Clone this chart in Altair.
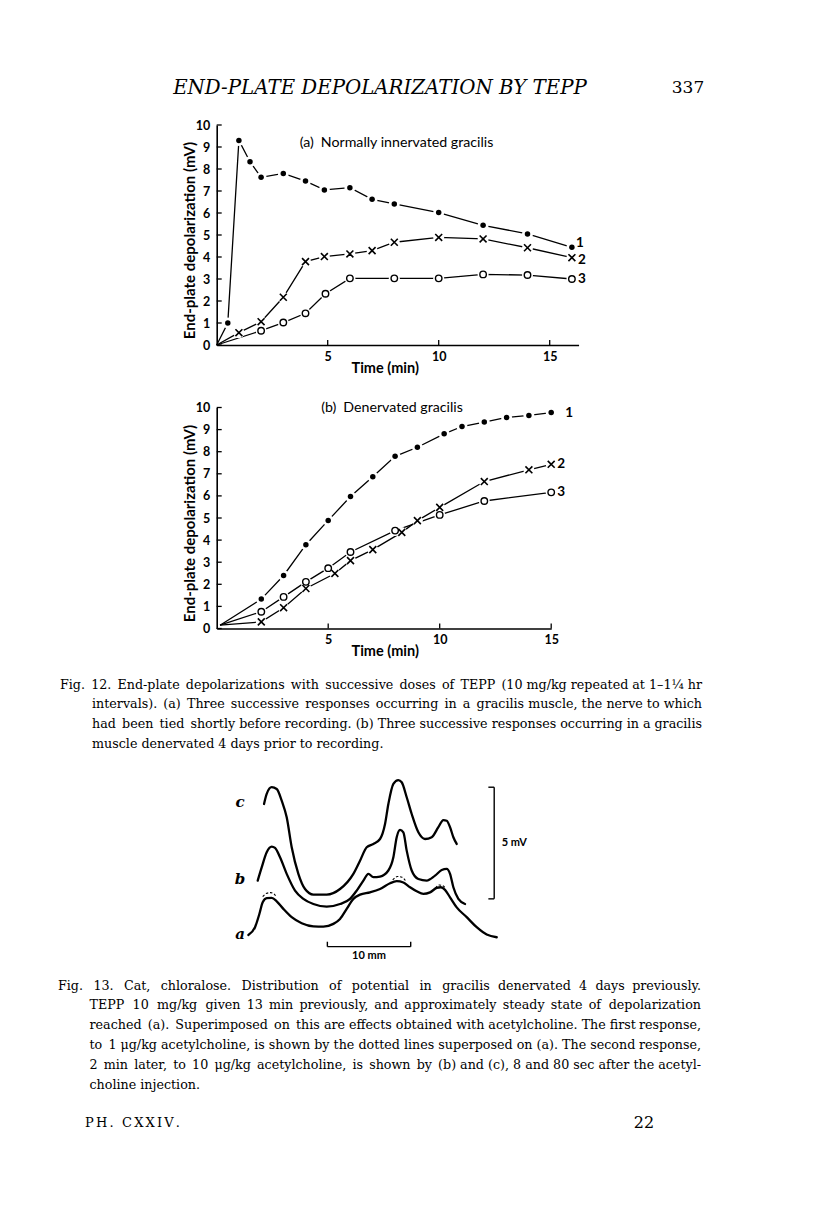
import altair as alt
import pandas as pd

SANS = "Lato"
SERIF = "DejaVu Serif"

# ---------------- Fig. 12 (a) Normally innervated gracilis ----------------
a_time_1 = [0, 0.5, 1, 1.5, 2, 3, 4, 4.85, 6, 7, 8, 10, 12, 14, 16]
a_mv_1 = [0, 1.0, 9.3, 8.33, 7.62, 7.8, 7.45, 7.05, 7.15, 6.62, 6.41, 6.02, 5.44, 5.05, 4.44]
a_time_2 = [0, 1, 2, 3, 4, 4.85, 6, 7, 8, 10, 12, 14, 16]
a_mv_2 = [0, 0.56, 1.06, 2.17, 3.79, 4.02, 4.14, 4.29, 4.67, 4.89, 4.82, 4.42, 3.97]
a_time_3 = [0, 2, 3, 4, 4.9, 6, 8, 10, 12, 14, 16]
a_mv_3 = [0, 0.65, 1.02, 1.44, 2.33, 3.03, 3.03, 3.03, 3.21, 3.18, 3.0]

# ---------------- Fig. 12 (b) Denervated gracilis ----------------
b_time_1 = [0.15, 2, 3, 4, 5, 6, 7, 8, 9, 10.2, 11, 12, 13, 14, 15]
b_mv_1 = [0.15, 1.33, 2.4, 3.79, 4.89, 5.97, 6.87, 7.79, 8.2, 8.81, 9.14, 9.34, 9.55, 9.64, 9.77]
b_time_2 = [0.15, 2, 3, 4, 5.3, 6, 7, 8.3, 9, 10, 12, 14, 15]
b_mv_2 = [0.15, 0.3, 0.94, 1.81, 2.49, 3.07, 3.57, 4.35, 4.88, 5.48, 6.65, 7.18, 7.43]
b_time_3 = [0.15, 2, 3, 4, 5, 6, 8, 10, 12, 15]
b_mv_3 = [0.15, 0.76, 1.43, 2.11, 2.73, 3.46, 4.43, 5.14, 5.77, 6.16]

y_ticks = list(range(0, 11))
x_ticks = [5, 10, 15]
series_labels = ["1", "2", "3"]

# ---------------- Fig. 13 traces (x in mm, y in mV) ----------------
trace_a_mm = [0, 0.8, 1.32, 1.72, 2.2, 2.8, 3.4, 4.2, 5.2, 6.4, 7.8, 9.0, 10.2, 11.0, 11.8, 12.6, 13.4,
              14.6, 15.8, 17.0, 17.8, 18.6, 19.4, 20.2, 21.0, 21.8, 22.6, 23.1, 23.6, 24.2, 25.0, 26.2,
              27.4, 28.6, 29.8]
trace_a_mv = [0.10, 0.45, 1.04, 1.57, 1.75, 1.76, 1.61, 1.27, 0.90, 0.63, 0.49, 0.48, 0.60, 0.82, 1.27,
              1.72, 1.91, 2.01, 2.16, 2.42, 2.51, 2.45, 2.24, 2.06, 1.94, 2.01, 2.21, 2.24, 2.12, 1.79,
              1.34, 0.90, 0.45, 0.12, 0.0]
trace_b_mm = [1.12, 1.6, 2.2, 2.8, 3.2, 3.8, 4.6, 5.6, 6.6, 7.8, 9.4, 11.0, 12.2, 13.0, 13.8, 14.4, 15.0,
              15.8, 16.8, 17.4, 17.8, 18.2, 18.6, 19.0, 19.6, 20.4, 21.4, 22.4, 23.2, 23.8, 24.2, 24.6,
              25.2, 26.0]
trace_b_mv = [2.54, 3.13, 3.81, 4.06, 4.0, 3.58, 2.84, 2.09, 1.72, 1.49, 1.37, 1.49, 1.72, 2.09, 2.54,
              2.84, 2.69, 2.72, 2.99, 3.58, 4.48, 4.81, 4.70, 3.88, 2.99, 2.61, 2.54, 2.76, 3.01, 3.06,
              2.84, 2.24, 1.72, 1.49]
trace_c_mm = [1.88, 2.2, 2.8, 3.4, 4.0, 4.6, 5.2, 6.0, 6.8, 7.8, 9.4, 11.0, 12.6, 13.4, 14.2, 15.0, 15.8,
              16.4, 16.8, 17.4, 18.0, 18.4, 19.0, 19.6, 20.4, 21.2, 22.0, 22.8, 23.4, 23.8, 24.2, 24.6,
              25.0]
trace_c_mv = [5.97, 6.42, 6.72, 6.64, 6.12, 5.37, 4.03, 2.84, 2.16, 1.91, 1.91, 2.16, 2.84, 3.43, 4.03,
              4.18, 4.40, 5.07, 5.97, 6.87, 7.04, 6.94, 6.27, 5.52, 4.70, 4.40, 4.48, 4.93, 5.25, 5.22,
              4.93, 4.48, 4.18]
# dotted responses to 1 ug/kg ACh superposed on (a)
dot1_mm = [1.72, 2.2, 2.68, 3.08, 3.32]
dot1_mv = [1.82, 1.97, 2.0, 1.94, 1.82]
dot2_mm = [17.32, 17.88, 18.44, 18.84]
dot2_mv = [2.57, 2.72, 2.69, 2.54]
dot3_mm = [22.44, 22.92, 23.4, 23.64]
dot3_mv = [2.21, 2.34, 2.30, 2.18]
trace_names = ["a", "b", "c"]
trace_label_mm = -1.0
trace_label_mv = [0.15, 2.61, 6.04]
# calibration bars
bar_mv_x, bar_mv_lo, bar_mv_len = 29.5, 1.72, 5.0
bar_mm_y, bar_mm_lo, bar_mm_len = -0.42, 9.48, 10.0

# ---------------- page texts ----------------
header_text = "END-PLATE DEPOLARIZATION BY TEPP"
page_number = "337"
fig12_caption = [
    "Fig. 12. End-plate depolarizations with successive doses of TEPP (10 mg/kg repeated at 1\u20131\u00bc hr",
    "intervals). (a) Three successive responses occurring in a gracilis muscle, the nerve to which",
    "had been tied shortly before recording. (b) Three successive responses occurring in a gracilis",
    "muscle denervated 4 days prior to recording.",
]
fig13_caption = [
    "Fig. 13. Cat, chloralose. Distribution of potential in gracilis denervated 4 days previously.",
    "TEPP 10 mg/kg given 13 min previously, and approximately steady state of depolarization",
    "reached (a). Superimposed on this are effects obtained with acetylcholine. The first response,",
    "to 1 \u03bcg/kg acetylcholine, is shown by the dotted lines superposed on (a). The second response,",
    "2 min later, to 10 \u03bcg/kg acetylcholine, is shown by (b) and (c), 8 and 80 sec after the acetyl-",
    "choline injection.",
]
footer_left = "PH. CXXIV."
footer_right = "22"

XPATH = "M-1,-1L1,1M-1,1L1,-1"
THIN = "\u2006"
W = 800
CAP_SIZE = 12.7


def panel_df(times, values):
    rows = []
    for sid, (ts, vs) in enumerate(zip(times, values), start=1):
        for i, (t, v) in enumerate(zip(ts, vs)):
            rows.append(dict(s=sid, t=t, v=v, i=i))
    return pd.DataFrame(rows)


def text_layer(txt, x, y, font=SERIF, size=CAP_SIZE, align="left", style="normal", weight="normal"):
    return alt.Chart(pd.DataFrame({"txt": [txt]})).mark_text(
        font=font, fontSize=size, align=align, baseline="middle", fontStyle=style,
        fontWeight=weight, color="black"
    ).encode(x=alt.value(x), y=alt.value(y), text="txt:N")


def justified(line, x_left, x_right, y, pad):
    """Left part padded with narrow spaces, last word set flush right."""
    words = line.split(" ")
    head, tail = words[:-1], words[-1]
    gaps = max(len(head) - 1, 1)
    parts = []
    for k, w in enumerate(head):
        parts.append(w)
        if k < len(head) - 1:
            extra = pad // gaps + (1 if k < pad % gaps else 0)
            parts.append(" " + THIN * extra)
    return [text_layer("".join(parts), x_left, y), text_layer(tail, x_right, y, align="right")]


def panel(df, xmax, left, xpx, y_range, title, title_xy, label_shifts):
    xs = alt.Scale(domain=[0, xmax], range=[left, left + xpx * xmax], nice=False, zero=False)
    ys = alt.Scale(domain=[0, 10], range=y_range, nice=False, zero=False)
    X = alt.X("t:Q", scale=xs, axis=alt.Axis(values=x_ticks, title="Time (min)",
                                             titleX=left + 168, titleY=23))
    Y = alt.Y("v:Q", scale=ys, axis=alt.Axis(values=y_ticks, title="End-plate depolarization (mV)",
                                             offset=-left, titleX=-27, titleFontSize=15,
                                             titleY=(y_range[0] + y_range[1]) / 2 + 5))
    base = alt.Chart(df)
    lines = base.mark_line(color="black", strokeWidth=1.3).encode(x=X, y=Y, detail="s:N", order="t:Q")
    mk = base.transform_filter("datum.i > 0")
    halo = mk.mark_circle(color="white", opacity=1, size=120).encode(x=X, y=Y)
    dots = mk.transform_filter("datum.s == 1").mark_circle(color="black", opacity=1, size=30).encode(x=X, y=Y)
    crosses = mk.transform_filter("datum.s == 2").mark_point(
        shape=XPATH, filled=False, color="black", strokeWidth=1.6, size=48, opacity=1).encode(x=X, y=Y)
    circles = mk.transform_filter("datum.s == 3").mark_point(
        shape="circle", filled=False, color="black", strokeWidth=1.4, size=42, opacity=1).encode(x=X, y=Y)
    yt = alt.Chart(pd.DataFrame({"v": y_ticks})).mark_rule(color="black", strokeWidth=1.3).encode(
        y=Y, x=alt.value(left), x2=alt.value(left + 5))
    xt = alt.Chart(pd.DataFrame({"t": x_ticks})).mark_rule(color="black", strokeWidth=1.3).encode(
        x=X, y=alt.value(y_range[0]), y2=alt.value(y_range[0] - 5))
    last = df.loc[df.groupby("s")["t"].idxmax()].copy()
    last["lab"] = series_labels
    labs = []
    for sid, (dx, dy) in zip([1, 2, 3], label_shifts):
        labs.append(alt.Chart(last[last["s"] == sid]).mark_text(
            font=SANS, fontSize=13.5, fontWeight="bold", align="left", baseline="middle",
            dx=dx, dy=dy, color="black").encode(x=X, y=Y, text="lab:N"))
    ttl = text_layer(title, title_xy[0], title_xy[1], font=SANS, size=14.2, align="center")
    return [lines, halo, dots, crosses, circles, yt, xt, ttl] + labs


# ---------------- Row A: header + panel (a) ----------------
df_a = panel_df([a_time_1, a_time_2, a_time_3], [a_mv_1, a_mv_2, a_mv_3])
row_a = alt.layer(
    *panel(df_a, 16.3, 208.7, 22.2, [337, 117], "(a)\u2002Normally innervated gracilis", (388.5, 135),
           [(4, -4), (6, 2), (6, 0)]),
    text_layer(header_text, 372, 80, size=19.8, align="center", style="italic"),
    text_layer(page_number, 680, 80, size=17, align="center"),
).properties(width=W, height=337)

# ---------------- Row B: panel (b) ----------------
df_b = panel_df([b_time_1, b_time_2, b_time_3], [b_mv_1, b_mv_2, b_mv_3])
row_b = alt.layer(
    *panel(df_b, 15, 208.7, 22.3, [283.5, 62.5], "(b)\u2002Denervated gracilis", (384, 63),
           [(14, 0), (6, 0), (6, 0)]),
).properties(width=W, height=283.5)

# ---------------- Row C: captions + Fig. 13 ----------------
tr_rows = []
for name, xs_, ys_ in zip(trace_names, [trace_a_mm, trace_b_mm, trace_c_mm], [trace_a_mv, trace_b_mv, trace_c_mv]):
    for x_, y_ in zip(xs_, ys_):
        tr_rows.append(dict(tr=name, x=x_, y=y_))
tr_df = pd.DataFrame(tr_rows)
dot_rows = []
for k, (xs_, ys_) in enumerate(zip([dot1_mm, dot2_mm, dot3_mm], [dot1_mv, dot2_mv, dot3_mv])):
    for x_, y_ in zip(xs_, ys_):
        dot_rows.append(dict(seg=k, x=x_, y=y_))
dot_df = pd.DataFrame(dot_rows)

XS13 = alt.Scale(domain=[-2, 34], range=[223.7, 523.7], nice=False, zero=False)
YS13 = alt.Scale(domain=[-1.22, 7.2], range=[335.5, 147.5], nice=False, zero=False)
X13 = alt.X("x:Q", scale=XS13, axis=None)
Y13 = alt.Y("y:Q", scale=YS13, axis=None)
X13b = alt.X2("x2:Q")
Y13b = alt.Y2("y2:Q")

traces = alt.Chart(tr_df).mark_line(color="black", strokeWidth=2.3, interpolate="monotone",
                                    strokeCap="round").encode(x=X13, y=Y13, detail="tr:N", order="x:Q")
dotted = alt.Chart(dot_df).mark_line(color="black", strokeWidth=1.1, interpolate="monotone",
                                     strokeDash=[2.5, 1.8]).encode(x=X13, y=Y13, detail="seg:N", order="x:Q")
bar_df = pd.DataFrame({
    "x": [bar_mv_x, bar_mv_x - 0.7, bar_mv_x - 0.7, bar_mm_lo, bar_mm_lo, bar_mm_lo + bar_mm_len],
    "x2": [bar_mv_x, bar_mv_x, bar_mv_x, bar_mm_lo + bar_mm_len, bar_mm_lo, bar_mm_lo + bar_mm_len],
    "y": [bar_mv_lo, bar_mv_lo, bar_mv_lo + bar_mv_len, bar_mm_y, bar_mm_y, bar_mm_y],
    "y2": [bar_mv_lo + bar_mv_len, bar_mv_lo, bar_mv_lo + bar_mv_len, bar_mm_y, bar_mm_y + 0.22, bar_mm_y + 0.22],
})
bars = alt.Chart(bar_df).mark_rule(color="black", strokeWidth=1.4).encode(x=X13, x2=X13b, y=Y13, y2=Y13b)
tlab_df = pd.DataFrame({"x": [trace_label_mm] * 3, "y": trace_label_mv, "lab": trace_names})
tlabs = alt.Chart(tlab_df).mark_text(font=SERIF, fontSize=15, fontStyle="italic", fontWeight="bold",
                                     align="center", baseline="middle", color="black").encode(
    x=X13, y=Y13, text="lab:N")
cal_df = pd.DataFrame({"x": [bar_mv_x + 0.9, bar_mm_lo + bar_mm_len / 2],
                       "y": [bar_mv_lo + bar_mv_len / 2, bar_mm_y - 0.4],
                       "lab": ["%g mV" % bar_mv_len, "%g mm" % bar_mm_len]})
cal1 = alt.Chart(cal_df.iloc[[0]]).mark_text(font=SANS, fontSize=11, fontWeight="bold", align="left",
                                             baseline="middle", color="black").encode(x=X13, y=Y13, text="lab:N")
cal2 = alt.Chart(cal_df.iloc[[1]]).mark_text(font=SANS, fontSize=11, fontWeight="bold", align="center",
                                             baseline="middle", color="black").encode(x=X13, y=Y13, text="lab:N")

# caption layout (view coordinates): left edges, right edge, line positions, extra narrow spaces
cap_layers = []
pads12 = [9, 8, 3]
for k, line in enumerate(fig12_caption):
    x0 = 52 if k == 0 else 84
    y0 = 55.5 + 19.7 * k
    if k < len(fig12_caption) - 1:
        cap_layers += justified(line, x0, 694, y0, pads12[k])
    else:
        cap_layers.append(text_layer(line, x0, y0))
pads13 = [30, 14, 4, 1, 10]
for k, line in enumerate(fig13_caption):
    x0 = 50 if k == 0 else 81.5
    y0 = 356.5 + 19.8 * k
    if k < len(fig13_caption) - 1:
        cap_layers += justified(line, x0, 693, y0, pads13[k])
    else:
        cap_layers.append(text_layer(line, x0, y0))
cap_layers.append(text_layer(THIN.join(footer_left), 77, 493.5, size=13))
cap_layers.append(text_layer(footer_right, 636, 493.5, size=16, align="center"))

row_c = alt.layer(traces, dotted, bars, tlabs, cal1, cal2, *cap_layers).properties(width=W, height=511.5)

chart = alt.vconcat(row_a, row_b, row_c, spacing=0, bounds="flush").properties(
    padding=0
).configure_view(stroke=None).configure_axis(
    domainColor="black", domainWidth=1.6, labelColor="black", labelFont=SANS, labelFontSize=12.5,
    labelFontWeight="bold", titleColor="black", titleFont=SANS, titleFontSize=14.5,
    titleFontWeight="bold", ticks=False, tickSize=0, grid=False, labelFlush=False,
    titleBaseline="middle", titleAlign="center"
).configure_axisX(labelPadding=5).configure_axisY(labelPadding=7)

chart.save("out.html", embed_options={"renderer": "svg", "actions": False})
